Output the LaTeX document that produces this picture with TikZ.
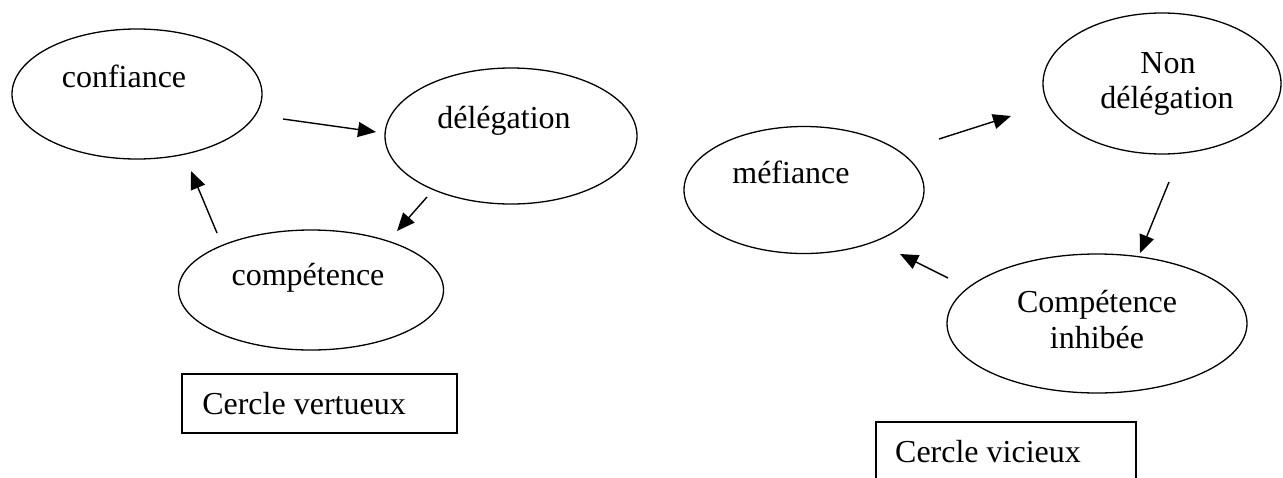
\documentclass[tikz,border=0pt]{standalone}
\usepackage{fontspec}
\setmainfont{Liberation Serif}
\usetikzlibrary{shapes.geometric,arrows.meta}
\begin{document}
\begin{tikzpicture}[x=1pt,y=-1pt,
  bubble/.style={draw,ellipse,line width=1.3pt,inner sep=0pt},
  lbl/.style={anchor=base,inner sep=0pt,font=\fontsize{32}{38}\selectfont},
  conn/.style={line width=1.4pt,-{Triangle[length=18pt,width=15pt]}},
  frame/.style={line width=1.3pt}]
\useasboundingbox (0,0) rectangle (1283,477);
% left cycle
\node[bubble,minimum width=250pt,minimum height=130pt] (conf) at (137,94) {};
\node[bubble,minimum width=252pt,minimum height=136pt] (deleg) at (511,136) {};
\node[bubble,minimum width=265pt,minimum height=120pt] (comp) at (311,290) {};
\node[lbl] (conft) at (124,87) {confiance};
\node[lbl] (delegt) at (504,128) {délégation};
\node[lbl] (compt) at (308,285) {compétence};
\node[draw,frame,minimum width=275pt,minimum height=59pt,inner sep=0pt] (vert) at (319.5,403.5) {};
\node[lbl] (vertt) at (304,414) {Cercle vertueux};
\coordinate (a1s) at (283,119); \coordinate (a1e) at (376,132);
\coordinate (a2s) at (427,197); \coordinate (a2e) at (397,231);
\coordinate (a3s) at (217,233); \coordinate (a3e) at (191,171);
\draw[conn] (a1s) -- (a1e);
\draw[conn] (a2s) -- (a2e);
\draw[conn] (a3s) -- (a3e);
% right cycle
\node[bubble,minimum width=240pt,minimum height=127pt] (mef) at (804,190) {};
\node[bubble,minimum width=238pt,minimum height=141pt] (nondeleg) at (1162,83.5) {};
\node[bubble,minimum width=300pt,minimum height=139pt] (inhib) at (1097,323.5) {};
\node[lbl] (meft) at (791,183) {méfiance};
\node[lbl] (nont) at (1168,73) {Non};
\node[lbl] (nondelegt) at (1167,108) {délégation};
\node[lbl] (inhibt1) at (1097,312) {Compétence};
\node[lbl] (inhibt2) at (1097,348) {inhibée};
\coordinate (vicbl) at (876,480); \coordinate (victr) at (1136,422);
\draw[frame] (vicbl) |- (victr) -- (1136,480);
\node[lbl] (vict) at (988,462) {Cercle vicieux};
\coordinate (b1s) at (939,139); \coordinate (b1e) at (1011,116);
\coordinate (b2s) at (1169,182); \coordinate (b2e) at (1140,253);
\coordinate (b3s) at (948,278); \coordinate (b3e) at (900,254);
\draw[conn] (b1s) -- (b1e);
\draw[conn] (b2s) -- (b2e);
\draw[conn] (b3s) -- (b3e);
\end{tikzpicture}
\end{document}
